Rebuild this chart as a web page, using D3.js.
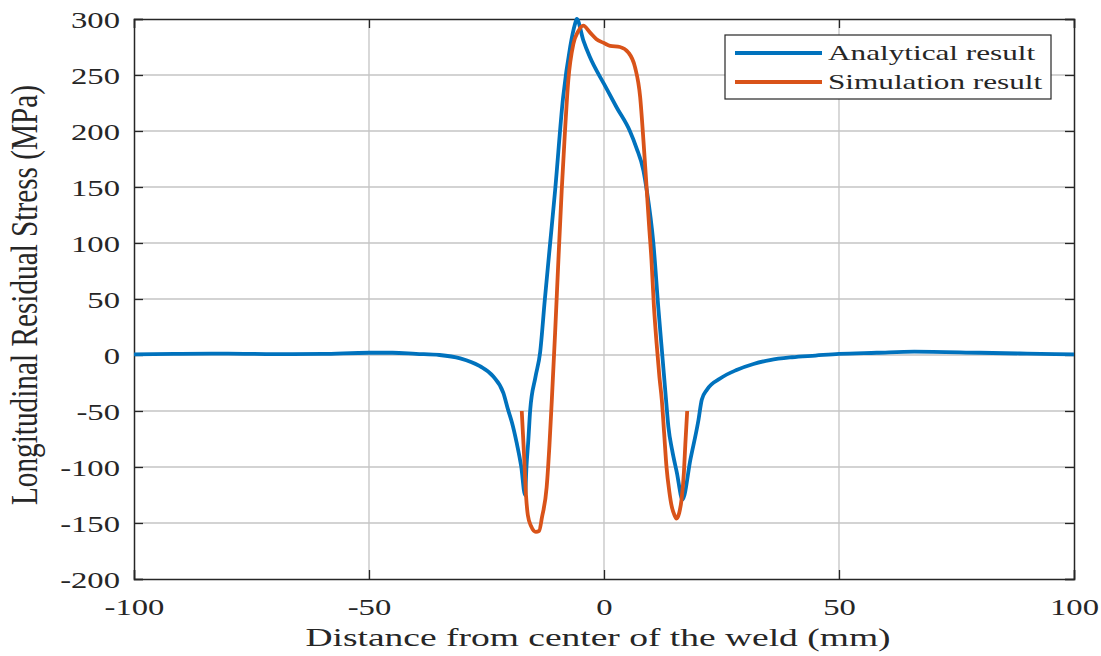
<!DOCTYPE html>
<html>
<head>
<meta charset="utf-8">
<script src="https://cdn.jsdelivr.net/npm/d3@7"></script>
<style>
  body { margin: 0; background: #fff; }
  text { font-family: "Liberation Serif", "Times New Roman", serif; fill: #262626; }
</style>
</head>
<body>
<div class="canvas"></div>
<script>
// data: [distance (mm), stress (MPa)]
const analytical = [
  [-100, 0.5], [-90, 1], [-80, 1.2], [-70, 0.8], [-60, 1], [-50, 2], [-45, 2],
  [-40, 1], [-35, 0], [-30.6, -3], [-26.4, -10], [-23.6, -19], [-21.4, -34],
  [-20.4, -49], [-19.6, -60], [-18.6, -78], [-17.6, -100], [-16.8, -125],
  [-16.5, -100], [-16.1, -76], [-15.7, -49], [-14.6, -20], [-13.6, 2],
  [-12.6, 49], [-11.5, 98], [-10.4, 147], [-8.7, 230], [-7.2, 275], [-6.2, 295],
  [-5.8, 300], [-4.4, 281], [-3, 266], [0, 242], [2.7, 221], [5.5, 200],
  [6.9, 185], [8.4, 164.5], [9.1, 147], [10.5, 100], [11.6, 40],
  [12.5, -5], [13.2, -40], [13.7, -64], [14.5, -85], [15.5, -105], [16.7, -129],
  [18.4, -93], [20.1, -58], [20.8, -40], [21.9, -31], [24.7, -21], [28.2, -13.4],
  [31.8, -8], [35.3, -4.5], [40, -2], [45, -0.5], [50, 1], [58, 2], [66, 3],
  [80, 2], [90, 1.2], [100, 0.5]
];

const simulation = [
  [-17.5, -50], [-17, -90], [-16.6, -125], [-16.2, -143], [-15.5, -153],
  [-14.5, -158], [-13.8, -157], [-13.2, -145], [-12.2, -118], [-11.6, -80],
  [-11.1, -40], [-10.4, 20], [-9.7, 85], [-9, 147], [-8.3, 200], [-7.6, 245],
  [-6.5, 278], [-5.5, 289], [-4.4, 294], [-3, 288], [-1.6, 282], [0, 278.5],
  [1.3, 276], [3.4, 275], [5.2, 270], [6.6, 257], [7.7, 230], [8.4, 191],
  [9.1, 147], [9.6, 115], [10.1, 85], [10.6, 45], [11.2, 10], [11.8, -20],
  [12.3, -40], [12.8, -70], [13.3, -100], [13.9, -122], [14.4, -135],
  [15, -143], [15.4, -146], [16, -141], [16.5, -129], [17, -105], [17.3, -80],
  [17.7, -50]
];

const xTicks = [-100, -50, 0, 50, 100];
const yTicks = [-200, -150, -100, -50, 0, 50, 100, 150, 200, 250, 300];
const seriesNames = ["Analytical result", "Simulation result"];
const colors = ["#0072BD", "#D95319"];

const w = 1101;
const h = 656;
const margin = { top: 19, right: 27, bottom: 77, left: 134 };
const graphWidth = w - margin.left - margin.right;
const graphHeight = h - margin.top - margin.bottom;
const stretch = 1.42; // the picture's text is wide

const svg = d3.select(".canvas").append("svg").attr("width", w).attr("height", h);

const x = d3.scaleLinear().domain([-100, 100]).range([0, graphWidth]);
const y = d3.scaleLinear().domain([-200, 300]).range([graphHeight, 0]);

const graph = svg.append("g").attr("transform", `translate(${margin.left}, ${margin.top})`);

// grid
graph.append("g").selectAll("line").data(xTicks.slice(1, -1)).enter().append("line")
  .attr("x1", d => x(d)).attr("x2", d => x(d)).attr("y1", 0).attr("y2", graphHeight)
  .attr("stroke", "#c4c4c4").attr("stroke-width", 1.3);
graph.append("g").selectAll("line").data(yTicks.slice(1, -1)).enter().append("line")
  .attr("y1", d => y(d)).attr("y2", d => y(d)).attr("x1", 0).attr("x2", graphWidth)
  .attr("stroke", "#c4c4c4").attr("stroke-width", 1.3);

// axes with inward ticks on every side
const tick = 9;
const fmt = d => String(d); // plain hyphen minus, as in the picture
const xAxisGroup = graph.append("g").attr("transform", `translate(0, ${graphHeight})`)
  .call(d3.axisBottom(x).tickValues(xTicks).tickSize(-tick).tickPadding(0).tickFormat(fmt));
graph.append("g").call(d3.axisTop(x).tickValues(xTicks).tickSize(-tick).tickFormat(""));
const yAxisGroup = graph.append("g")
  .call(d3.axisLeft(y).tickValues(yTicks).tickSize(-tick).tickFormat(fmt));
graph.append("g").attr("transform", `translate(${graphWidth}, 0)`)
  .call(d3.axisRight(y).tickValues(yTicks).tickSize(-tick).tickFormat(""));

graph.selectAll(".domain").attr("stroke", "#262626").attr("stroke-width", 1.5);
graph.selectAll(".tick line").attr("stroke", "#262626").attr("stroke-width", 1.3);

xAxisGroup.selectAll("text")
  .attr("y", null).attr("dy", null)
  .attr("font-size", 23)
  .attr("text-anchor", "middle")
  .attr("transform", `translate(0, 36) scale(${stretch}, 1)`);
yAxisGroup.selectAll("text")
  .attr("x", null).attr("dy", null)
  .attr("font-size", 23)
  .attr("text-anchor", "end")
  .attr("transform", `translate(-14, 8) scale(${stretch}, 1)`);

// lines
const line = d3.line().x(d => x(d[0])).y(d => y(d[1])).curve(d3.curveMonotoneX);
[analytical, simulation].forEach((data, i) => {
  graph.append("path").datum(data)
    .attr("fill", "none").attr("stroke", colors[i]).attr("stroke-width", 3.8)
    .attr("stroke-linejoin", "round")
    .attr("d", line);
});

// axis titles
svg.append("text")
  .attr("font-size", 26)
  .attr("text-anchor", "middle")
  .attr("textLength", 412).attr("lengthAdjust", "spacingAndGlyphs")
  .attr("transform", `translate(${margin.left + graphWidth / 2 - 6}, 646) scale(${stretch}, 1)`)
  .text("Distance from center of the weld (mm)");
svg.append("text")
  .attr("font-size", 26)
  .attr("text-anchor", "middle")
  .attr("textLength", 420).attr("lengthAdjust", "spacingAndGlyphs")
  .attr("transform", `translate(37, ${margin.top + graphHeight / 2 - 4}) scale(${stretch}, 1) rotate(-90)`)
  .text("Longitudinal Residual Stress (MPa)");

// legend
const legend = svg.append("g").attr("transform", "translate(725, 35)");
legend.append("rect").attr("width", 326).attr("height", 64)
  .attr("fill", "#fff").attr("stroke", "#262626").attr("stroke-width", 1.2);
seriesNames.forEach((name, i) => {
  const ly = 18 + i * 29;
  legend.append("line").attr("x1", 10).attr("x2", 97).attr("y1", ly).attr("y2", ly)
    .attr("stroke", colors[i]).attr("stroke-width", 3.8);
  legend.append("text").attr("font-size", 22)
    .attr("transform", `translate(103, ${ly + 7}) scale(${stretch}, 1)`)
    .text(name);
});
</script>
</body>
</html>
